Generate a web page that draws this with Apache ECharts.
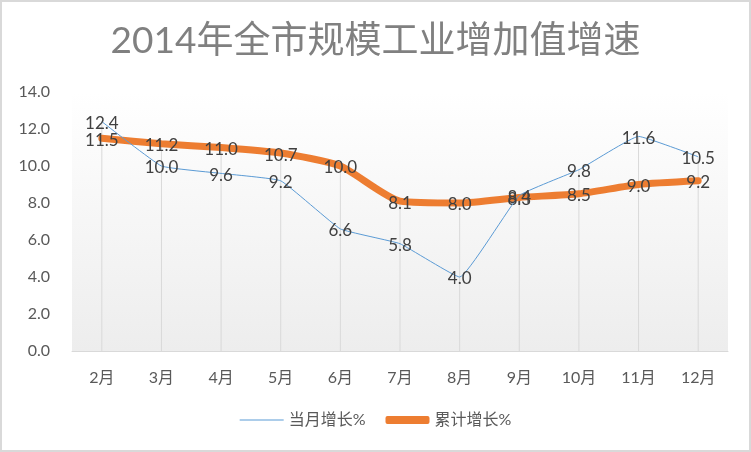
<!DOCTYPE html>
<html>
<head>
<meta charset="utf-8">
<script src="https://cdn.jsdelivr.net/npm/echarts@6/dist/echarts.min.js"></script>
<style>
  html, body { margin: 0; padding: 0; background: #fff; }
  #chart { width: 751px; height: 452px; box-sizing: border-box; border: 2px solid #d9d9d9; }
</style>
</head>
<body>
<div id="chart"></div>
<script>
const months = ['2月', '3月', '4月', '5月', '6月', '7月', '8月', '9月', '10月', '11月', '12月']
const monthly = [12.4, 10.0, 9.6, 9.2, 6.6, 5.8, 4.0, 8.4, 9.8, 11.6, 10.5] // 当月增长%
const cumulative = [11.5, 11.2, 11.0, 10.7, 10.0, 8.1, 8.0, 8.3, 8.5, 9.0, 9.2] // 累计增长%
const yTicks = [0, 2, 4, 6, 8, 10, 12, 14]

const font = "Lato, 'Noto Sans CJK SC', sans-serif"
// 垂直线：从较高的点落到横轴
const dropLines = months.map((m, i) => Math.max(monthly[i], cumulative[i]))

const labelStyle = {
  show: true,
  position: 'inside',
  fontSize: 17,
  color: '#404040',
  fontFamily: font,
  offset: [0, 2],
  formatter: p => p.value.toFixed(1)
}

const chart = echarts.init(document.getElementById('chart'))
chart.setOption({
  animation: false,
  textStyle: { fontFamily: font },
  title: {
    text: '2014年全市规模工业增加值增速',
    left: 'center',
    top: 16,
    textStyle: { fontSize: 37, fontWeight: 'normal', color: '#808080', fontFamily: font }
  },
  legend: {
    bottom: 17,
    left: 'center',
    itemWidth: 44,
    itemHeight: 8,
    itemGap: 20,
    data: [
      { name: '当月增长%', icon: 'path://M0,0L44,0L44,1L0,1Z' },
      { name: '累计增长%', icon: 'roundRect' }
    ],
    textStyle: { fontSize: 16, color: '#595959', fontFamily: font }
  },
  grid: {
    left: 70,
    right: 21,
    top: 90,
    bottom: 99,
    show: true,
    borderWidth: 0,
    backgroundColor: new echarts.graphic.LinearGradient(0, 0, 0, 1, [
      { offset: 0, color: '#ffffff' },
      { offset: 1, color: '#ededed' }
    ])
  },
  xAxis: {
    type: 'category',
    data: months,
    axisLine: { lineStyle: { color: '#d9d9d9', width: 1 } },
    axisTick: { show: false },
    axisLabel: { fontSize: 16, color: '#595959', margin: 19, fontFamily: font }
  },
  yAxis: {
    type: 'value',
    min: yTicks[0],
    max: yTicks[yTicks.length - 1],
    interval: 2,
    axisLine: { show: false },
    axisTick: { show: false },
    splitLine: { show: false },
    axisLabel: {
      fontSize: 16,
      color: '#595959',
      margin: 22,
      fontFamily: font,
      formatter: v => v.toFixed(1)
    }
  },
  series: [
    {
      name: 'drop',
      type: 'bar',
      barWidth: 1,
      silent: true,
      itemStyle: { color: '#d9d9d9' },
      data: dropLines,
      z: 1
    },
    {
      name: '当月增长%',
      type: 'line',
      smooth: 0.1,
      symbol: 'circle',
      symbolSize: 0.1,
      showSymbol: true,
      data: monthly,
      lineStyle: { color: '#5b9bd5', width: 1 },
      itemStyle: { color: '#5b9bd5' },
      label: labelStyle,
      z: 3
    },
    {
      name: '累计增长%',
      type: 'line',
      smooth: 0.2,
      symbol: 'circle',
      symbolSize: 0.1,
      showSymbol: true,
      data: cumulative,
      lineStyle: { color: '#ed7d31', width: 7, cap: 'round', join: 'round' },
      itemStyle: { color: '#ed7d31' },
      label: labelStyle,
      z: 2
    }
  ]
})
</script>
</body>
</html>
